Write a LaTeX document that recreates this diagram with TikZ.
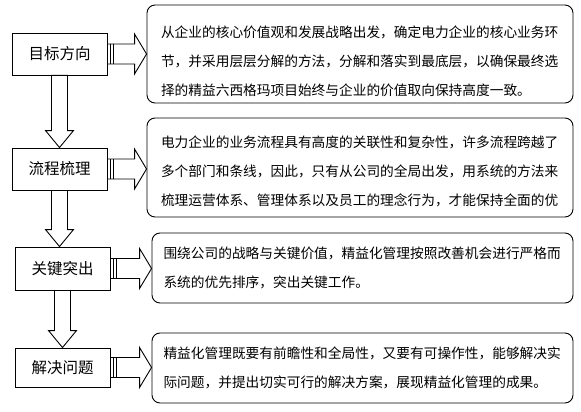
\documentclass[tikz,border=0pt]{standalone}
\usepackage{fontspec}
\setmainfont{Noto Sans CJK SC}
\usetikzlibrary{calc}

\begin{document}
\begin{tikzpicture}[
  x=1pt, y=-1pt,
  stage/.style={draw, line width=0.9pt, minimum width=95pt, inner sep=0pt, font=\fontsize{15.5pt}{18pt}\selectfont},
  detail/.style={draw, line width=0.9pt, rounded corners=8pt, inner sep=0pt, text width=398pt, align=left, font=\fontsize{13.7pt}{29pt}\selectfont},
  hollow/.style={draw, line width=0.9pt, fill=white, line join=miter}
]
\useasboundingbox (0,0) rectangle (581,412);

\node[stage, minimum height=42pt] (m1) at (59.5,54) {目标方向};
\node[stage, minimum height=42pt] (m2) at (59.5,169) {流程梳理};
\node[stage, minimum height=43pt] (m3) at (62.5,268.5) {关键突出};
\node[stage, minimum height=39pt] (m4) at (62.5,367.5) {解决问题};

\node[detail, minimum width=426pt, minimum height=98pt] (d1) at (360,54) {\rule{0pt}{26pt}从企业的核心价值观和发展战略出发，确定电力企业的核心业务环\\节，并采用层层分解的方法，分解和落实到最底层，以确保最终选\\择的精益六西格玛项目始终与企业的价值取向保持高度一致。};
\node[detail, minimum width=426pt, minimum height=99pt] (d2) at (360,167.5) {\rule{0pt}{19pt}电力企业的业务流程具有高度的关联性和复杂性，许多流程跨越了\\多个部门和条线，因此，只有从公司的全局出发，用系统的方法来\\梳理运营体系、管理体系以及员工的理念行为，才能保持全面的优};
\node[detail, minimum width=421pt, minimum height=70pt] (d3) at (362.5,268) {围绕公司的战略与关键价值，精益化管理按照改善机会进行严格而\\系统的优先排序，突出关键工作。};
\node[detail, minimum width=421pt, minimum height=70pt] (d4) at (362.5,368) {精益化管理既要有前瞻性和全局性，又要有可操作性，能够解决实\\际问题，并提出切实可行的解决方案，展现精益化管理的成果。};

% hollow arrows down the left column
\foreach \a/\b in {m1/m2, m2/m3, m3/m4}
  \draw[hollow] let \p1=(\a.south), \p2=(\b.north) in
    (\x1-8pt,\y1) -- (\x1-8pt,\y2+17pt) -- (\x1-14pt,\y2+17pt) -- (\x1,\y2)
    -- (\x1+14pt,\y2+17pt) -- (\x1+8pt,\y2+17pt) -- (\x1+8pt,\y1) -- cycle;

% hollow arrows to the details
\foreach \a/\b in {m1/d1, m2/d2, m3/d3, m4/d4} {
  \draw[hollow] let \p1=(\a.east), \p2=(\b.west) in
    (\x1,\y1+10pt) -- (\x2-12pt,\y1+10pt) -- (\x2-12pt,\y1+20pt) -- (\x2,\y1)
    -- (\x2-12pt,\y1-20pt) -- (\x2-12pt,\y1-10pt) -- (\x1,\y1-10pt) -- cycle;
  \draw[line width=0.9pt] let \p1=(\a.east) in
    (\x1+3pt,\y1+10pt) -- (\x1+3pt,\y1-10pt)
    (\x1+6pt,\y1+10pt) -- (\x1+6pt,\y1-10pt);
}

\end{tikzpicture}
\end{document}
